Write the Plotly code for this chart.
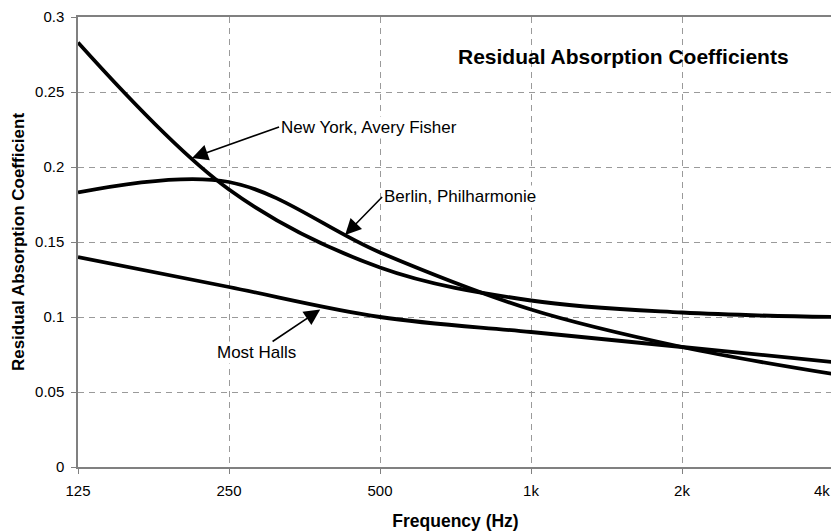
import math
import plotly.graph_objects as go

freqs = [125, 250, 500, 1000, 2000, 4000]
tick_labels = ["125", "250", "500", "1k", "2k", "4k"]
new_york = [0.283, 0.185, 0.133, 0.111, 0.103, 0.100]
berlin = [0.183, 0.190, 0.143, 0.105, 0.080, 0.062]
most_halls = [0.140, 0.120, 0.100, 0.090, 0.080, 0.070]
y_ticks = [0, 0.05, 0.1, 0.15, 0.2, 0.25, 0.3]
y_tick_labels = ["0", "0.05", "0.1", "0.15", "0.2", "0.25", "0.3"]

FONT = "Liberation Sans, Arial, sans-serif"
GRID = "#9a9a9a"
AXIS = "#808080"

fig = go.Figure()
for name, vals in [("New York, Avery Fisher", new_york),
                   ("Berlin, Philharmonie", berlin),
                   ("Most Halls", most_halls)]:
    fig.add_trace(go.Scatter(
        x=freqs, y=vals, name=name, mode="lines",
        line=dict(color="black", width=3.8, shape="spline", smoothing=1.0),
        showlegend=False, hoverinfo="skip"))

# page body has an 8px margin, so the figure is offset by 8px
fig.update_layout(
    width=831, height=523,
    margin=dict(l=70, r=6, t=9, b=64, autoexpand=False),
    paper_bgcolor="white", plot_bgcolor="white",
    font=dict(family=FONT, color="black", size=15),
)

# last tick label sits at the very edge; draw it as a right-anchored label so it stays visible
shown_ticktext = tick_labels[:-1] + [""]

fig.update_xaxes(
    type="log",
    range=[math.log10(125), math.log10(4000)],
    tickvals=freqs, ticktext=shown_ticktext,
    showgrid=True, gridcolor=GRID, griddash="6px,5px", gridwidth=1,
    showline=True, linecolor=AXIS, linewidth=1.5, mirror=True,
    ticks="outside", ticklen=5, tickcolor=AXIS,
    tickfont=dict(size=15, family=FONT, color="black"),
    ticklabeloverflow="allow", ticklabelstandoff=4,
    automargin=False,
    title=dict(text="<b>Frequency (Hz)</b>", font=dict(size=17.5, family=FONT), standoff=24),
    zeroline=False,
)
fig.update_yaxes(
    range=[0, 0.3],
    tickvals=y_ticks, ticktext=y_tick_labels,
    showgrid=True, gridcolor=GRID, griddash="6px,5px", gridwidth=1,
    showline=True, linecolor=AXIS, linewidth=1.5, mirror=True,
    ticks="outside", ticklen=5, tickcolor=AXIS,
    tickfont=dict(size=15, family=FONT, color="black"),
    ticklabelstandoff=4,
    automargin=False,
    title=dict(text="<b>Residual Absorption Coefficient</b>", font=dict(size=17, family=FONT), standoff=6),
    zeroline=False,
)

def lx(f):
    return math.log10(f)

fig.add_annotation(x=lx(freqs[-1]), y=0, xref="x", yref="y",
                   text=tick_labels[-1], showarrow=False,
                   xanchor="right", yanchor="middle", xshift=-1, yshift=-23,
                   font=dict(size=15, family=FONT, color="black"))

ann_font = dict(size=17, family=FONT, color="black")
arrow_style = dict(arrowhead=2, arrowsize=2.0, arrowwidth=1.6, arrowcolor="black")
fig.add_annotation(x=lx(211), y=0.206, xref="x", yref="y",
                   text="New York, Avery Fisher", showarrow=True,
                   ax=87, ay=-31, xanchor="left", yanchor="middle",
                   bgcolor="white", font=ann_font, standoff=0, **arrow_style)
fig.add_annotation(x=lx(426), y=0.1547, xref="x", yref="y",
                   text="Berlin, Philharmonie", showarrow=True,
                   ax=37, ay=-38, xanchor="left", yanchor="middle",
                   bgcolor="white", font=ann_font, standoff=0, **arrow_style)
fig.add_annotation(x=lx(380), y=0.105, xref="x", yref="y",
                   text="Most Halls", showarrow=True,
                   ax=-64, ay=43, xanchor="center", yanchor="middle",
                   bgcolor="white", font=ann_font, standoff=0, **arrow_style)
fig.add_annotation(x=0.722, y=0.913, xref="paper", yref="paper",
                   text="<b>Residual Absorption Coefficients</b>", showarrow=False,
                   xanchor="center", yanchor="middle",
                   font=dict(size=21, family=FONT, color="black"))

fig.write_html("out.html")
